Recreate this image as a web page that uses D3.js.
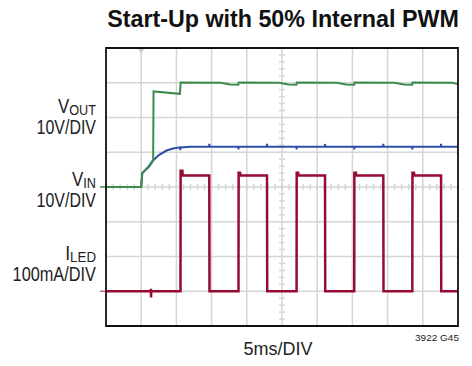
<!DOCTYPE html>
<html>
<head>
<meta charset="utf-8">
<style>
  body { margin: 0; background: #fff; }
  svg { display: block; }
  text { font-family: "Liberation Sans", Arial, sans-serif; fill: #222; }
</style>
</head>
<body>
<div id="chart"></div>
<script src="https://d3js.org/d3.v7.min.js"></script>
<script>
var width = 472;
var height = 366;

// time in ms (5ms/DIV, 10 divisions)
var timeDomain = [0, 50];
var timeGrid = [0, 5, 10, 15, 20, 25, 30, 35, 40, 45, 50];
var divGrid = [0, 1, 2, 3, 4, 5, 6, 7, 8];

// VOUT, volts (10V/DIV, ground at division 4)
var voutTrace = [
  [0, 0], [5.0, 0], [5.15, 4.0], [6.0, 5.8], [6.7, 7.8], [6.75, 27.5], [10.5, 26.8], [10.6, 30.1],
  [16.3, 30.0], [17.6, 29.5], [18.8, 29.4], [18.85, 30.1],
  [24.6, 30.0], [25.9, 29.5], [27.05, 29.4], [27.1, 30.1],
  [32.8, 30.0], [34.1, 29.5], [35.25, 29.4], [35.3, 30.1],
  [41.0, 30.0], [42.3, 29.5], [43.5, 29.4], [43.55, 30.1],
  [49.2, 30.0], [50, 29.6]
];

// VIN, volts (10V/DIV, ground at division 4)
var vinTrace = [
  [0, 0], [5.0, 0], [5.15, 4.0], [6.1, 5.8], [6.75, 7.8], [7.5, 9.2], [8.6, 10.5], [9.5, 11.1],
  [10.5, 11.4], [10.55, 10.6], [10.6, 11.4], [12.0, 11.6],
  [14.65, 11.6], [14.67, 12.4], [14.7, 11.6],
  [18.8, 11.6], [18.82, 10.8], [18.85, 11.6],
  [22.85, 11.6], [22.87, 12.4], [22.9, 11.6],
  [27.05, 11.6], [27.07, 10.8], [27.1, 11.6],
  [31.1, 11.6], [31.11, 12.4], [31.15, 11.6],
  [35.24, 11.6], [35.26, 10.8], [35.3, 11.6],
  [39.37, 11.6], [39.39, 12.4], [39.42, 11.6],
  [43.5, 11.6], [43.51, 10.8], [43.55, 11.6],
  [47.57, 11.6], [47.59, 12.4], [47.62, 11.6],
  [50, 11.6]
];

// ILED, mA (100mA/DIV, ground at division 1)
var iledTrace = [
  [0, 0], [6.38, 0], [6.38, 7], [6.4, -18], [6.42, 0],
  [10.58, 0], [10.6, 347], [10.85, 347], [10.9, 333], [14.67, 333], [14.7, 0],
  [18.82, 0], [18.84, 341], [19.05, 341], [19.1, 333], [22.87, 333], [22.9, 0],
  [27.07, 0], [27.09, 341], [27.3, 341], [27.35, 333], [31.11, 333], [31.14, 0],
  [35.26, 0], [35.28, 341], [35.5, 341], [35.55, 333], [39.39, 333], [39.42, 0],
  [43.51, 0], [43.53, 341], [43.75, 341], [43.8, 333], [47.59, 333], [47.62, 0],
  [50, 0]
];

var x = d3.scaleLinear().domain(timeDomain).range([106, 458]);
var yDiv = d3.scaleLinear().domain([0, 8]).range([326, 48]);
var yVolt = function(v) { return yDiv(4 + v / 10); };
var yAmp = function(ma) { return yDiv(1 + ma / 100); };

var svg = d3.select("#chart").append("svg")
  .attr("width", width)
  .attr("height", height);

// grid
svg.append("g").selectAll("line")
  .data(timeGrid.slice(1, -1))
  .enter().append("line")
  .attr("x1", d => x(d)).attr("x2", d => x(d))
  .attr("y1", yDiv(8)).attr("y2", yDiv(0))
  .attr("stroke", "#d6d6d6").attr("stroke-width", 1.5);

svg.append("g").selectAll("line")
  .data(divGrid.slice(1, -1))
  .enter().append("line")
  .attr("x1", x(0)).attr("x2", x(50))
  .attr("y1", d => yDiv(d)).attr("y2", d => yDiv(d))
  .attr("stroke", "#d6d6d6").attr("stroke-width", 1.5);

// minor ticks on the centre lines
svg.append("g").selectAll("line")
  .data(d3.range(0, 50.01, 1))
  .enter().append("line")
  .attr("x1", d => x(d)).attr("x2", d => x(d))
  .attr("y1", yDiv(4) - 3).attr("y2", yDiv(4) + 3)
  .attr("stroke", "#d6d6d6").attr("stroke-width", 1.5);

svg.append("g").selectAll("line")
  .data(d3.range(0, 8.01, 0.2))
  .enter().append("line")
  .attr("x1", x(25) - 3).attr("x2", x(25) + 3)
  .attr("y1", d => yDiv(d)).attr("y2", d => yDiv(d))
  .attr("stroke", "#d6d6d6").attr("stroke-width", 1.5);

// trigger marker
svg.append("path")
  .attr("d", "M" + (x(5) - 3) + "," + (yDiv(8) + 1) + "h6l-3,4z")
  .attr("fill", "#c8c8c8");

// channel ground markers
svg.append("line")
  .attr("x1", 100).attr("x2", 105).attr("y1", yVolt(0)).attr("y2", yVolt(0))
  .attr("stroke", "#3b8c4c").attr("stroke-width", 1.5);
svg.append("line")
  .attr("x1", 100).attr("x2", 105).attr("y1", yAmp(0)).attr("y2", yAmp(0))
  .attr("stroke", "#c46a80").attr("stroke-width", 1.5);

// traces
var line = d3.line();

svg.append("path")
  .datum(vinTrace)
  .attr("d", line.x(d => x(d[0])).y(d => yVolt(d[1])))
  .attr("fill", "none").attr("stroke", "#2e4fa3").attr("stroke-width", 2);

svg.append("path")
  .datum(voutTrace)
  .attr("d", line.x(d => x(d[0])).y(d => yVolt(d[1])))
  .attr("fill", "none").attr("stroke", "#3b8c4c").attr("stroke-width", 2);

svg.append("path")
  .datum(iledTrace)
  .attr("d", line.x(d => x(d[0])).y(d => yAmp(d[1])))
  .attr("fill", "none").attr("stroke", "#970a31").attr("stroke-width", 2.5);

// frame
svg.append("path")
  .attr("d", "M" + x(0) + "," + yDiv(8) + "V" + yDiv(0) + "H" + x(50) + "V" + yDiv(8) + "Z")
  .attr("fill", "none").attr("stroke", "#111").attr("stroke-width", 1.8);

// squeeze a text horizontally to a narrow width, keeping its anchor point
function fit(t, ax, w) {
  var bw = t.node().getBBox().width;
  var k = w / bw;
  t.attr("transform", "translate(" + ax + ",0) scale(" + k + ",1) translate(" + (-ax) + ",0)");
}

// title
var title = svg.append("text")
  .attr("x", 283).attr("y", 27)
  .attr("text-anchor", "middle")
  .style("font-size", "24px").style("font-weight", "bold").style("fill", "#111")
  .text("Start-Up with 50% Internal PWM");
fit(title, 283, 352);

// channel labels
function label(y, main, sub, scale, w1, w2) {
  var t = svg.append("text")
    .attr("x", 96).attr("y", y)
    .attr("text-anchor", "end")
    .style("font-size", "20px");
  t.append("tspan").text(main);
  t.append("tspan").attr("dy", 2).style("font-size", "15px").text(sub);
  fit(t, 96, w1);
  var s = svg.append("text")
    .attr("x", 96).attr("y", y + 21)
    .attr("text-anchor", "end")
    .style("font-size", "20px")
    .text(scale);
  fit(s, 96, w2);
}
label(113, "V", "OUT", "10V/DIV", 38, 60);
label(186, "V", "IN", "10V/DIV", 24, 60);
label(260, "I", "LED", "100mA/DIV", 31, 84);

var xl = svg.append("text")
  .attr("x", 278).attr("y", 355)
  .attr("text-anchor", "middle")
  .style("font-size", "18px")
  .text("5ms/DIV");
fit(xl, 278, 69);

var code = svg.append("text")
  .attr("x", 459).attr("y", 341)
  .attr("text-anchor", "end")
  .style("font-size", "9px")
  .text("3922 G45");
fit(code, 459, 44);
</script>
</body>
</html>
